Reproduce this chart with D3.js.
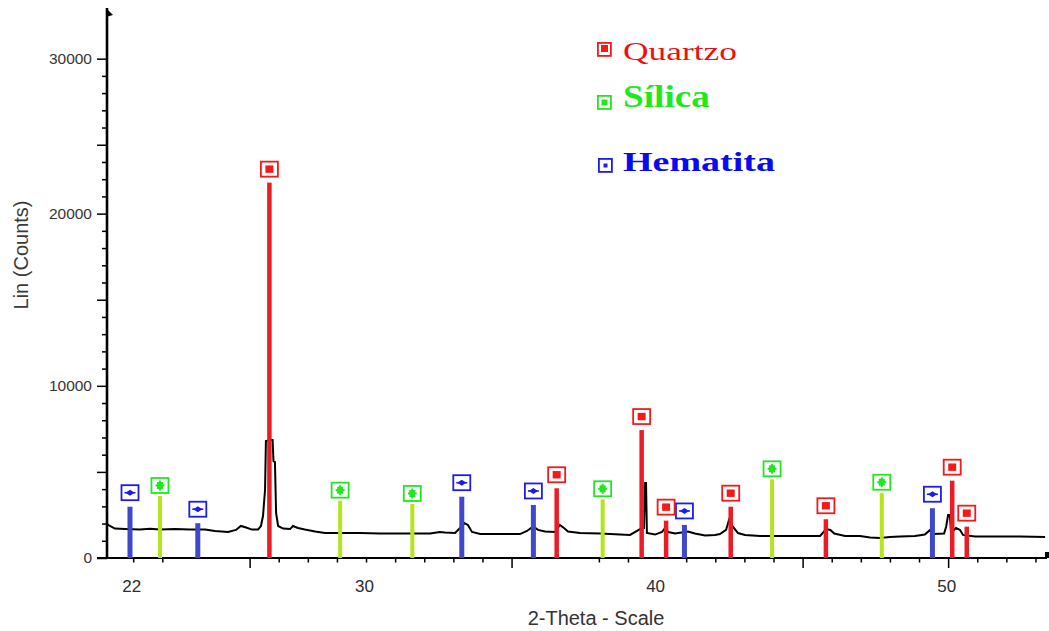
<!DOCTYPE html>
<html><head><meta charset="utf-8">
<script src="https://cdn.jsdelivr.net/npm/d3@7"></script>
<style>body{margin:0;background:#fff}svg{display:block}</style>
</head><body>
<svg id="c" width="1049" height="631"></svg>
<script>
// ---------- DATA ----------
const profileTheta  = [21.10,21.20,21.37,21.72,22.23,22.58,22.92,23.44,23.95,24.47,24.81,25.26,25.53,25.70,25.88,26.08,26.29,26.39,26.46,26.53,26.56,26.73,26.79,26.82,26.87,26.91,26.98,27.15,27.39,27.49,27.66,27.90,28.25,28.59,29.11,29.79,30.48,31.17,32.20,32.54,32.71,33.06,33.23,33.37,33.50,33.64,33.92,34.60,35.29,35.53,35.74,35.91,36.15,36.49,36.66,36.80,36.94,37.35,38.04,38.73,39.07,39.31,39.45,39.55,39.59,39.62,39.65,39.93,40.17,40.27,40.38,40.62,41.06,41.30,41.65,41.99,42.16,42.37,42.47,42.61,42.78,43.02,43.54,44.57,45.60,45.81,45.95,46.09,46.46,46.97,47.32,47.66,48.00,48.35,48.86,49.20,49.38,49.51,49.86,49.93,50.00,50.06,50.10,50.27,50.41,50.51,50.92,51.78,52.47,53.33];
const profileCounts = [1970,1860,1710,1680,1655,1700,1650,1680,1650,1650,1570,1510,1630,1860,1770,1650,1650,1860,2440,3950,6790,6850,6850,5630,5570,2610,1860,1710,1680,1860,1740,1650,1540,1450,1450,1450,1420,1420,1420,1510,1480,1450,1740,2030,1920,1510,1390,1390,1390,1570,1830,1630,1540,1510,1920,1740,1540,1450,1420,1360,1340,1570,1710,1740,4360,4360,1450,1360,1510,1740,1510,1420,1540,1420,1310,1340,1390,1630,2210,1800,1450,1340,1280,1280,1280,1680,1630,1420,1280,1280,1190,1160,1220,1250,1280,1360,1630,1390,1420,1800,2500,2500,1450,1740,1630,1340,1250,1250,1250,1220];

const quartzTheta   = [26.68,36.55,39.47,40.31,42.53,45.80,50.14,50.64];
const quartzCounts  = [21800,4050,7430,2170,2980,2250,4490,1820];
const silicaTheta   = [22.92,29.11,31.59,38.13,43.95,47.72];
const silicaCounts  = [3600,3330,3140,3410,4570,3790];
const hematiteTheta = [21.89,24.22,33.29,35.75,40.94,49.46];
const hematiteCounts= [2980,2020,3560,3080,1920,2890];

const legendNames = ["Quartzo","Sílica","Hematita"];

const xLabelValues = [22,30,40,50];
const xLabelText   = ["22","30","40","50"];
const xShortTicks  = [22,23,27,28,29,30,31,32,33,34,38,39,41,42,43,44,46,47,48,49,51,52,53];
const xLongTicks   = [26,35,45,50];
const yLabelValues = [0,10000,20000,29000];
const yLabelText   = ["0","10000","20000","30000"];
const yMediumTicks = [5000,15000,24000];
const yMinorTicks  = [1000,2000,3000,4000,6000,7000,8000,9000,11000,12000,13000,14000,16000,17000,18000,19000,21000,22000,23000,25000,26000,27000,28000];

// ---------- STYLE ----------
const barColor  = {q:"#ed1c24", s:"#b5e61d", h:"#3f48cc"};
const boxColor  = {q:"#f41a1a", s:"#22e622", h:"#1c1cf0"};
const barWidth  = {q:4.5, s:4, h:5};
const boxGap    = {q:6, s:3, h:6.5};
const legendStyle = [
  {key:"q", color:"#ee1111", weight:"normal", size:25, len:114, base:60,  box:[597,42]},
  {key:"s", color:"#1fe81f", weight:"bold",   size:31, len:87,  base:107, box:[597,95]},
  {key:"h", color:"#0a0aee", weight:"bold",   size:28, len:152, base:171, box:[598,158]}
];

const svg = d3.select("#c");
const x = d3.scaleLinear().domain([21.1, 53.5]).range([107, 1050]);
const y = d3.scaleLinear().domain([0, 32000]).range([558, 7]);

// ---------- AXES ----------
function styleAxis(g, sw){
  g.selectAll("line").attr("stroke","#000").attr("stroke-width",sw);
  g.select(".domain").remove();
}
const gxL = svg.append("g").attr("transform","translate(0,558)")
  .call(d3.axisBottom(x).tickValues(xLabelValues).tickFormat((d,i)=>xLabelText[i]).tickSize(0).tickPadding(22));
gxL.select(".domain").remove();
gxL.selectAll("text").attr("font-family","'Liberation Sans', Arial, sans-serif").attr("font-size",17).attr("fill","#2b2b33").attr("dx",-2);
const gxS = svg.append("g").attr("transform","translate(0,558)")
  .call(d3.axisBottom(x).tickValues(xShortTicks).tickFormat("").tickSize(4.5));
styleAxis(gxS,1.5);
const gxM = svg.append("g").attr("transform","translate(0,558)")
  .call(d3.axisBottom(x).tickValues(xLongTicks).tickFormat("").tickSize(10));
styleAxis(gxM,1.5);
svg.append("line").attr("x1",97).attr("x2",1047).attr("y1",558).attr("y2",558)
  .attr("stroke","#000").attr("stroke-width",2);
const gyL = svg.append("g").attr("transform","translate(107,0)")
  .call(d3.axisLeft(y).tickValues(yLabelValues).tickFormat((d,i)=>yLabelText[i]).tickSize(10).tickPadding(5));
styleAxis(gyL,1.5);
gyL.selectAll("text").attr("font-family","'Liberation Sans', Arial, sans-serif").attr("font-size",15.5).attr("fill","#3a3333");
const gyM = svg.append("g").attr("transform","translate(107,0)")
  .call(d3.axisLeft(y).tickValues(yMediumTicks).tickFormat("").tickSize(10));
styleAxis(gyM,1.5);
const gyS = svg.append("g").attr("transform","translate(107,0)")
  .call(d3.axisLeft(y).tickValues(yMinorTicks).tickFormat("").tickSize(5));
styleAxis(gyS,1.5);
svg.append("line").attr("x1",107).attr("x2",107).attr("y1",y(0)+1).attr("y2",y.range()[1]+1)
  .attr("stroke","#000").attr("stroke-width",2.6);
svg.append("path").attr("d","M106,8 L113,15 L106,17 Z").attr("fill","#000");
svg.append("rect").attr("x",1045).attr("y",552).attr("width",4).attr("height",6).attr("fill","#000");

svg.append("text").attr("x",596).attr("y",625).attr("text-anchor","middle")
  .attr("font-family","'Liberation Sans', Arial, sans-serif").attr("font-size",20).attr("fill","#333")
  .text("2-Theta - Scale");
svg.append("text").attr("transform","translate(28,255) rotate(-90)").attr("text-anchor","middle")
  .attr("font-family","'Liberation Sans', Arial, sans-serif").attr("font-size",20).attr("fill","#3a3a3a")
  .text("Lin (Counts)");

// ---------- PROFILE ----------
const profile = profileTheta.map((t,i)=>[t, profileCounts[i]]);
svg.append("path").datum(profile)
  .attr("d", d3.line().x(d=>x(d[0])).y(d=>y(d[1])))
  .attr("fill","none").attr("stroke","#000").attr("stroke-width",2).attr("stroke-linejoin","miter");

// ---------- BARS & MARKERS ----------
const series = [
  {key:"s", theta:silicaTheta, counts:silicaCounts},
  {key:"h", theta:hematiteTheta, counts:hematiteCounts},
  {key:"q", theta:quartzTheta, counts:quartzCounts}
];
function drawMarker(g, key, cx, cy){
  const c = boxColor[key];
  g.append("rect").attr("x",cx-8.5).attr("y",cy-7.5).attr("width",17).attr("height",15)
    .attr("fill","#fff").attr("stroke",c).attr("stroke-width",1.8);
  if(key==="q"){
    g.append("rect").attr("x",cx-4).attr("y",cy-3.7).attr("width",8).attr("height",7.4).attr("fill",c);
  } else if(key==="s"){
    g.append("rect").attr("x",cx-3).attr("y",cy-3.5).attr("width",6).attr("height",7).attr("fill",c);
    g.append("rect").attr("x",cx-4.5).attr("y",cy-1).attr("width",9).attr("height",2).attr("fill",c);
    g.append("rect").attr("x",cx-1).attr("y",cy-5).attr("width",2).attr("height",10).attr("fill",c);
  } else {
    g.append("path").attr("d",`M${cx-4.5},${cy} L${cx},${cy-3} L${cx+4.5},${cy} L${cx},${cy+3} Z`).attr("fill",c);
    g.append("rect").attr("x",cx-5.5).attr("y",cy-0.8).attr("width",11).attr("height",1.6).attr("fill",c);
  }
}
series.forEach(s=>{
  const g = svg.append("g");
  s.theta.forEach((t,i)=>{
    const cx = x(t), top = y(s.counts[i]);
    g.append("rect").attr("x",cx-barWidth[s.key]/2).attr("y",top)
      .attr("width",barWidth[s.key]).attr("height",y(0)-top).attr("fill",barColor[s.key]);
    drawMarker(g, s.key, cx, top - boxGap[s.key] - 7.5);
  });
});

// ---------- LEGEND ----------
legendStyle.forEach((ls,i)=>{
  const g = svg.append("g");
  const c = boxColor[ls.key];
  const [bx,by] = ls.box;
  g.append("rect").attr("x",bx+0.9).attr("y",by+0.9).attr("width",13).attr("height",13)
    .attr("fill","#fff").attr("stroke",c).attr("stroke-width",1.8);
  if(ls.key==="q"){
    g.append("rect").attr("x",bx+4).attr("y",by+3).attr("width",7).attr("height",7).attr("fill",c);
  } else if(ls.key==="s"){
    g.append("rect").attr("x",bx+4.5).attr("y",by+4.5).attr("width",6).attr("height",6).attr("fill",c);
  } else {
    g.append("rect").attr("x",bx+5.5).attr("y",by+5.5).attr("width",4).attr("height",4).attr("fill",c);
  }
  g.append("text").attr("x",623).attr("y",ls.base)
    .attr("font-family","'Liberation Serif','Times New Roman',serif")
    .attr("font-size",ls.size).attr("font-weight",ls.weight).attr("fill",ls.color)
    .attr("textLength",ls.len).attr("lengthAdjust","spacingAndGlyphs")
    .text(legendNames[i]);
});
</script>
</body></html>
